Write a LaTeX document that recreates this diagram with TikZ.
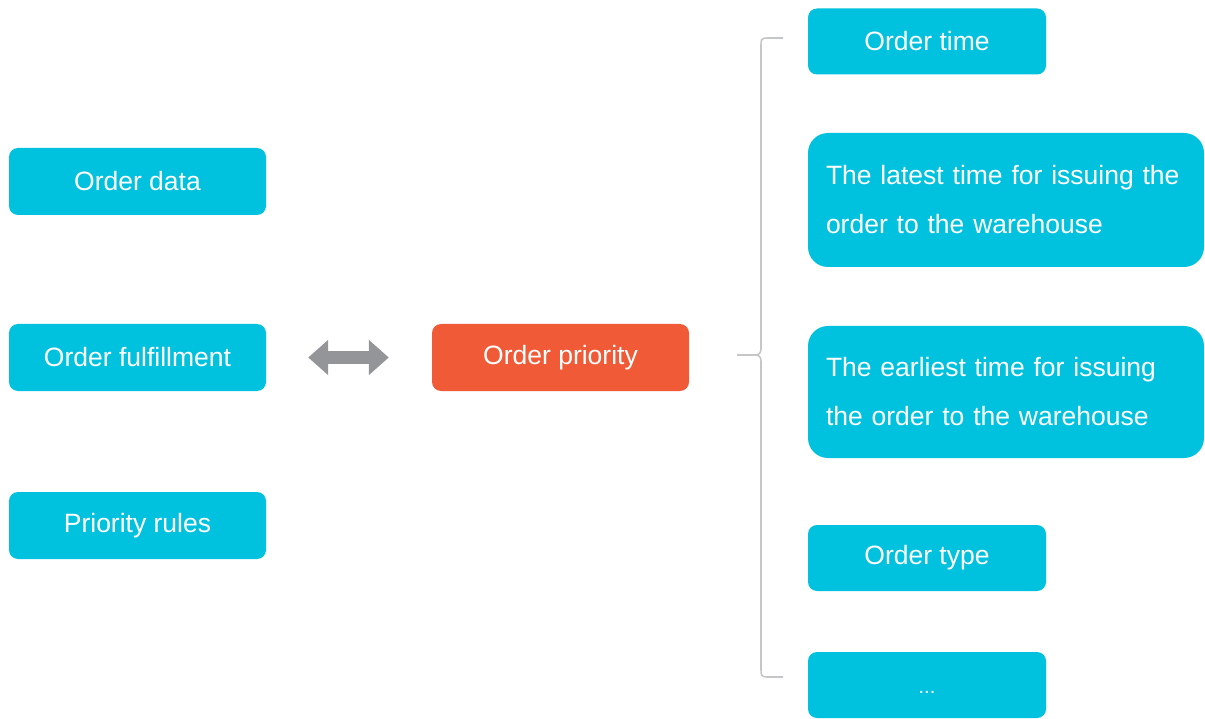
\documentclass[tikz,border=0pt]{standalone}
\usepackage{fontspec}
\setmainfont{Liberation Sans}
\usetikzlibrary{arrows.meta}
\definecolor{boxcyan}{HTML}{00C1DE}
\definecolor{boxorange}{HTML}{F15A37}
\definecolor{arrowgray}{HTML}{939598}
\definecolor{bracegray}{HTML}{C4C6C8}
\tikzset{
  item/.style={fill=boxcyan, text=white, rounded corners=9pt, inner sep=0pt,
    font=\fontsize{26.5}{49}\selectfont},
  smallbox/.style={item, minimum width=257pt, minimum height=67pt},
  sidebox/.style={item, minimum width=238pt, minimum height=66pt},
  bigbox/.style={item, rounded corners=20pt, minimum width=396pt, align=left,
    text width=360pt, inner xsep=18pt},
  focus/.style={smallbox, fill=boxorange},
  linkarrow/.style={draw=arrowgray, line width=12pt,
    {Triangle[length=20pt,width=34pt]}-{Triangle[length=20pt,width=34pt]}},
  brace/.style={draw=bracegray, line width=1.6pt}
}
\begin{document}
\begin{tikzpicture}[x=1pt,y=-1pt]
\useasboundingbox (0,0) rectangle (1205,719);

% left column
\node[smallbox] (data) at (137.5,181.5) {Order data};
\node[smallbox] (fulfil) at (137.5,357.5) {Order fulfillment};
\node[smallbox] (rules) at (137.5,525.5) {Priority rules};

% centre
\node[focus] (prio) at (560.5,357.5) {Order priority};
\draw[linkarrow, shorten <=42pt, shorten >=43pt] (fulfil.east) -- (prio.west);

% right column
\node[sidebox] (time) at (927,41.5) {Order time};
\node[bigbox, minimum height=134pt] (latest) at (1006,200)
  {The latest time for issuing the\\order to the warehouse};
\node[bigbox, minimum height=132pt] (earliest) at (1006,392)
  {The earliest time for issuing\\the order to the warehouse};
\node[sidebox] (type) at (927,558) {Order type};
\node[sidebox] (more) at (927,685)
  {\raisebox{-8pt}[0pt][0pt]{\fontsize{20}{20}\selectfont...}};

% grouping brace
\coordinate (tip) at (737,355);
\coordinate (btop) at (783,38);
\coordinate (bbot) at (783,677);
\draw[brace] (btop) -- ++(-16,0) .. controls +(-6,0) and +(0,-6) .. ++(-6,8)
  -- (761,349) .. controls (761,353) and (759,355) .. (755,355) -- (tip);
\draw[brace] (bbot) -- ++(-16,0) .. controls +(-6,0) and +(0,6) .. ++(-6,-8)
  -- (761,361) .. controls (761,357) and (759,355) .. (755,355);
\end{tikzpicture}
\end{document}
